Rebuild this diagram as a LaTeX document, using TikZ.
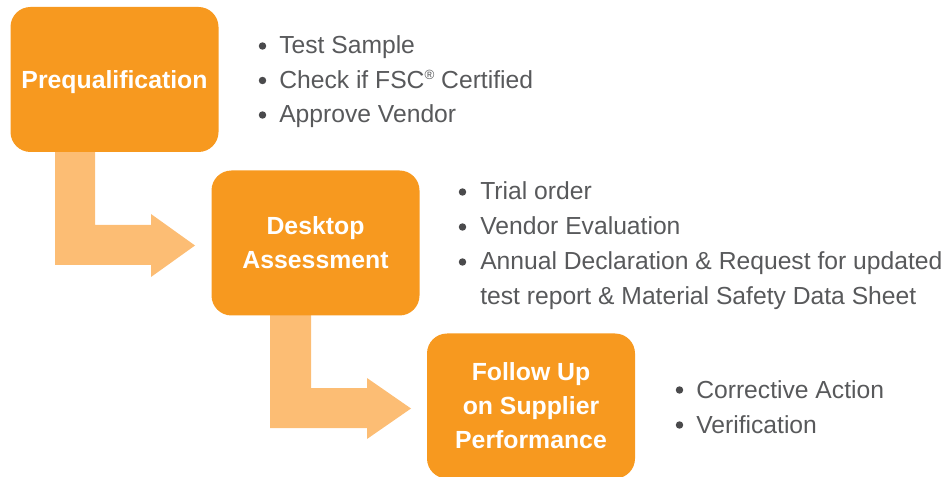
\documentclass[tikz,border=0pt]{standalone}
\usepackage{fontspec}
\setmainfont{Liberation Sans}
\definecolor{boxorange}{HTML}{F7991F}
\definecolor{arroworange}{HTML}{FCBD74}
\definecolor{txtgray}{HTML}{58595B}
\definecolor{dotgray}{HTML}{4A4A4C}
\begin{document}
\begin{tikzpicture}[x=0.75pt,y=-0.75pt,
  stage/.style={draw=none, fill=boxorange, rounded corners=15pt,
    minimum width=156pt, minimum height=108.75pt, text=white, text depth=0pt,
    font=\bfseries\fontsize{18.6}{25.5}\selectfont, align=center, inner sep=0pt},
  flow/.style={fill=arroworange, draw=none},
  item/.style={anchor=base west, text=txtgray,
    font=\fontsize{18.5}{22}\selectfont, inner sep=0pt},
  dot/.style={circle, fill=dotgray, draw=none, minimum size=5.6pt, inner sep=0pt}]
\useasboundingbox (0,0) rectangle (946,477);
% flow arrows (behind boxes)
\fill[flow] (55,150) -- (95,150) -- (95,225) -- (151,225) -- (151,214) -- (195,245.5)
  -- (151,277) -- (151,265) -- (55,265) -- cycle;
\fill[flow] (270,313) -- (311,313) -- (311,388) -- (367,388) -- (367,378) -- (411,408.5)
  -- (367,439) -- (367,428) -- (270,428) -- cycle;
% stage boxes
\node[stage] (pre) at (114.5,79.5) {Prequalification};
\node[stage] (desk) at (315.5,243) {Desktop\\Assessment};
\node[stage] (foll) at (531,406) {Follow Up\\on Supplier\\Performance};
% list 1
\node[dot] (d11) at (262.5,46) {};
\node[item] (t11) at (279,54) {Test Sample};
\node[dot] (d12) at (262.5,80.5) {};
\node[item] (t12) at (279,88.5) {Check if FSC\raisebox{7pt}{\fontsize{10}{10}\selectfont ®} Certified};
\node[dot] (d13) at (262.5,115) {};
\node[item] (t13) at (279,123) {Approve Vendor};
% list 2
\node[dot] (d21) at (462.5,192) {};
\node[item] (t21) at (480,200) {Trial order};
\node[dot] (d22) at (462.5,227) {};
\node[item] (t22) at (480,235) {Vendor Evaluation};
\node[dot] (d23) at (462.5,262) {};
\node[item] (t23) at (480,270) {Annual Declaration \& Request for updated};
\node[item] (t24) at (480,305) {test report \& Material Safety Data Sheet};
% list 3
\node[dot] (d31) at (679.5,390) {};
\node[item] (t31) at (696,398) {Corrective Action};
\node[dot] (d32) at (679.5,425) {};
\node[item] (t32) at (696,433) {Verification};
\end{tikzpicture}
\end{document}
